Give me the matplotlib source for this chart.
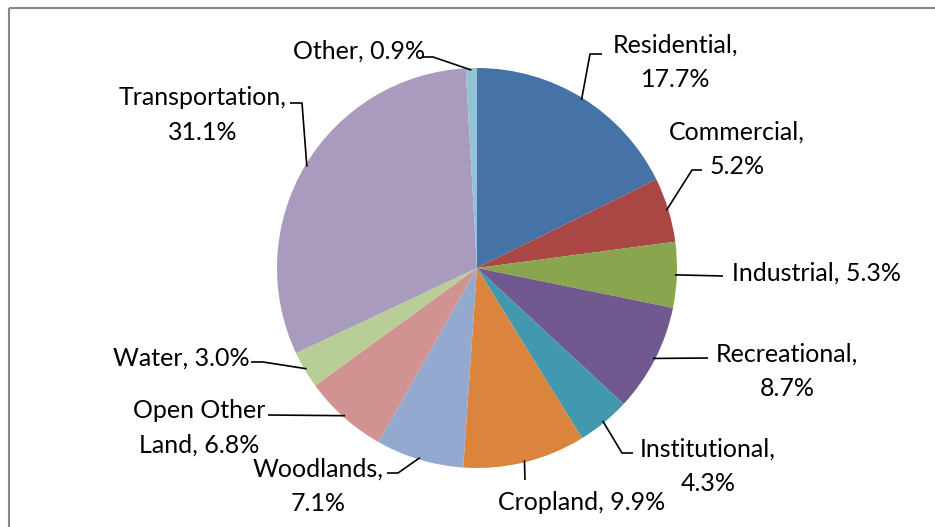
import matplotlib
matplotlib.use("Agg")
import matplotlib.pyplot as plt
import numpy as np
from matplotlib.patches import Rectangle

# Land use shares (%)
categories = ["Residential", "Commercial", "Industrial", "Recreational",
              "Institutional", "Cropland", "Woodlands", "Open Other Land",
              "Water", "Transportation", "Other"]
shares = [17.7, 5.2, 5.3, 8.7, 4.3, 9.9, 7.1, 6.8, 3.0, 31.1, 0.9]
colors = ["#4572A7", "#AA4643", "#89A54E", "#71588F", "#4198AF", "#DB843D",
          "#93A9CF", "#D19392", "#B9CD96", "#A99BBD", "#91C3D5"]

# Label layout (canvas pixel coordinates, y downwards)
label_breaks = ["\n", "\n", " ", "\n", "\n", " ", "\n", " ", " ", "\n", " "]
label_pos = [(676, 62), (737, 149), (816, 273), (787, 371), (708, 466),
             (582, 503), (318, 486), (199, 428), (181, 358), (203, 115),
             (359, 51)]
leader_knots = [[(602, 54), (590, 54)], [(702, 170), (692, 170)],
                [(723, 276)], [(708, 358)], [(633, 453), (622, 453)],
                [(525, 480)], [(387, 473), (398, 473)], [(268, 415)],
                [(251, 362), (263, 362)], [(290, 103), (302, 103)],
                [(423, 57), (433, 57)]]

W, H = 935, 527
center, radius = (477, 268), 200

fig = plt.figure(figsize=(W / 100, H / 100), dpi=100)
ax = fig.add_axes([0, 0, 1, 1])

wedges, _ = ax.pie(shares, colors=colors, startangle=-90, counterclock=True,
                   center=center, radius=radius,
                   wedgeprops=dict(linewidth=0))
ax.set_xlim(0, W)
ax.set_ylim(H, 0)
ax.set_aspect("auto")
ax.axis("off")

for i, (w, cat, val) in enumerate(zip(wedges, categories, shares)):
    mid = np.deg2rad((w.theta1 + w.theta2) / 2)
    ax_pt = (center[0] + 0.99 * radius * np.cos(mid),
             center[1] + 0.99 * radius * np.sin(mid))
    if cat == "Open Other Land":
        text = f"Open Other\nLand, {val:.1f}%"
    else:
        text = f"{cat},{label_breaks[i]}{val:.1f}%"
    ax.text(*label_pos[i], text, ha="center", va="center",
            multialignment="center", fontsize=18, family="Lato",
            color="black", linespacing=1.62)
    pts = leader_knots[i] + [ax_pt]
    xs, ys = zip(*pts)
    ax.plot(xs, ys, color="black", lw=1.2, solid_capstyle="butt")

ax.add_patch(Rectangle((9, 8), W, H, fill=False, edgecolor="#888888",
                       lw=1.5, clip_on=False))

fig.savefig("out.png", dpi=100)
